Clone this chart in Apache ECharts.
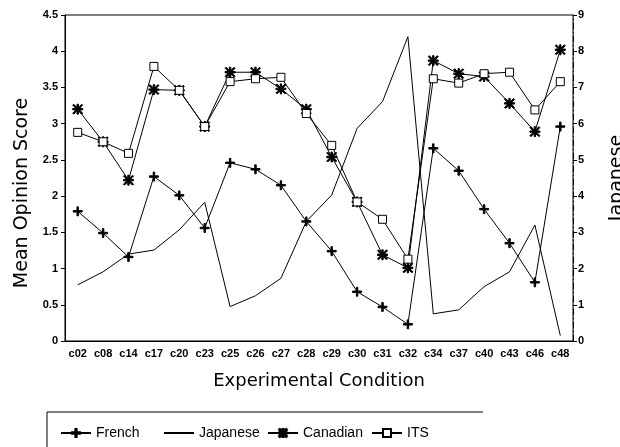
<!DOCTYPE html>
<html>
<head>
<meta charset="utf-8">
<script src="https://cdn.jsdelivr.net/npm/echarts@6/dist/echarts.min.js"></script>
<style>
  html, body { margin: 0; padding: 0; background: #fff; }
  #chart { width: 620px; height: 447px; }
</style>
</head>
<body>
<div id="chart"></div>
<script>
// Experimental conditions along the x axis
const conditions = ['c02','c08','c14','c17','c20','c23','c25','c26','c27','c28',
                    'c29','c30','c31','c32','c34','c37','c40','c43','c46','c48'];

// Mean opinion scores (left axis)
const french   = [1.79,1.49,1.16,2.27,2.01,1.56,2.46,2.37,2.15,1.65,
                  1.24,0.68,0.47,0.23,2.66,2.35,1.82,1.35,0.81,2.96];
const canadian = [3.20,2.75,2.22,3.47,3.46,2.96,3.71,3.71,3.48,3.20,
                  2.54,1.92,1.19,1.01,3.87,3.69,3.65,3.28,2.89,4.02];
const its      = [2.88,2.75,2.59,3.79,3.46,2.96,3.58,3.62,3.64,3.14,
                  2.70,1.92,1.68,1.13,3.62,3.56,3.69,3.71,3.19,3.58];

// Japanese scores (right axis, 0-9 scale)
const japanese = [1.55,1.91,2.40,2.51,3.07,3.83,0.95,1.25,1.73,3.30,
                  4.03,5.87,6.61,8.40,0.75,0.86,1.50,1.91,3.20,0.15];

// Tick values
const leftTicks  = [0,0.5,1,1.5,2,2.5,3,3.5,4,4.5];
const rightTicks = [0,1,2,3,4,5,6,7,8,9];

const plusPath = 'path://M4.2,0H5.8V10H4.2Z M0,4.2H10V5.8H0Z';
const starPath = 'path://M4.3,0H5.7V10H4.3Z M0,4.3H10V5.7H0Z M1,0L10,9L9,10L0,1Z M9,0L10,1L1,10L0,9Z';

const font = 'Liberation Sans, Arial, sans-serif';
const titleFont = 'DejaVu Sans, Verdana, sans-serif';
const black = '#000';

function lineSeries(name, data, symbol, size, extra) {
  return Object.assign({
    name: name,
    type: 'line',
    data: data,
    symbol: symbol,
    symbolSize: size,
    showSymbol: symbol !== 'none',
    lineStyle: { color: black, width: 1 },
    itemStyle: { color: black, borderColor: black, borderWidth: 1 },
    emphasis: { disabled: true },
    animation: false,
    z: 3
  }, extra || {});
}

function legendAt(name, left, extra) {
  return Object.assign({
    data: [name],
    left: left,
    top: 421,
    itemWidth: 30,
    itemHeight: 10,
    itemGap: 5,
    textStyle: { fontFamily: font, fontSize: 14, color: black },
    selectedMode: false
  }, extra || {});
}

const chart = echarts.init(document.getElementById('chart'));
chart.setOption({
  backgroundColor: '#fff',
  animation: false,
  grid: {
    left: 65, right: 47, top: 15, bottom: 106,
    outerBoundsMode: 'none',
    containLabel: false,
    show: true, borderColor: black, borderWidth: 1, backgroundColor: 'transparent'
  },
  legend: [
    legendAt('French', 55),
    legendAt('Japanese', 158, { itemStyle: { opacity: 0 } }),
    legendAt('Canadian', 262),
    legendAt('ITS', 366)
  ],
  graphic: [{
    type: 'polyline',
    shape: { points: [[47, 447], [47, 412], [483, 412]] },
    style: { stroke: black, lineWidth: 1, fill: null },
    silent: true
  }],
  xAxis: {
    type: 'category',
    data: conditions,
    boundaryGap: true,
    axisLine: { lineStyle: { color: black, width: 1 } },
    axisTick: { alignWithLabel: true, length: 4, lineStyle: { color: black } },
    axisLabel: { color: black, fontFamily: font, fontWeight: 'bold', fontSize: 11, margin: 7, interval: 0 },
    name: 'Experimental Condition',
    nameLocation: 'middle',
    nameGap: 31,
    nameTextStyle: { fontFamily: titleFont, fontSize: 18, color: black }
  },
  yAxis: [{
    type: 'value',
    min: leftTicks[0],
    max: leftTicks[leftTicks.length - 1],
    interval: 0.5,
    position: 'left',
    axisLine: { show: true, lineStyle: { color: black, width: 1 } },
    axisTick: { show: true, length: 4, lineStyle: { color: black } },
    splitLine: { show: false },
    axisLabel: { color: black, fontFamily: font, fontWeight: 'bold', fontSize: 11, margin: 7 },
    name: 'Mean Opinion Score',
    nameLocation: 'middle',
    nameGap: 30,
    nameRotate: 90,
    nameTextStyle: { fontFamily: titleFont, fontSize: 19, color: black, padding: [0, 30, 0, 0] }
  }, {
    type: 'value',
    min: rightTicks[0],
    max: rightTicks[rightTicks.length - 1],
    interval: 1,
    position: 'right',
    axisLine: { show: true, lineStyle: { color: black, width: 1, type: [6, 3, 1, 3] } },
    axisTick: { show: true, length: 4, lineStyle: { color: black } },
    splitLine: { show: false },
    axisLabel: { color: black, fontFamily: font, fontWeight: 'bold', fontSize: 11, margin: 5 },
    name: 'Japanese',
    nameLocation: 'middle',
    nameGap: 35,
    nameRotate: 90,
    nameTextStyle: { fontFamily: titleFont, fontSize: 19, color: black }
  }],
  series: [
    lineSeries('French', french, plusPath, 9),
    lineSeries('Japanese', japanese, 'none', 0, { yAxisIndex: 1 }),
    lineSeries('Canadian', canadian, starPath, 10),
    lineSeries('ITS', its, 'rect', 8, {
      itemStyle: { color: '#fff', borderColor: black, borderWidth: 1 }
    })
  ]
});
</script>
</body>
</html>
